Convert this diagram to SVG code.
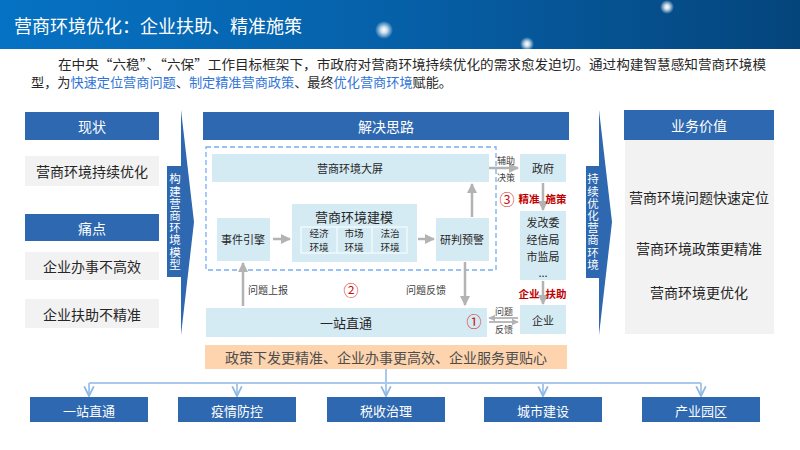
<svg xmlns="http://www.w3.org/2000/svg" width="800" height="450" viewBox="0 0 800 450">
<defs>
<linearGradient id="hdr" x1="0" y1="0" x2="1" y2="0">
<stop offset="0" stop-color="#0672c3"/>
<stop offset="0.5" stop-color="#0660a8"/>
<stop offset="1" stop-color="#05457c"/>
</linearGradient>
<radialGradient id="glow">
<stop offset="0" stop-color="#ffffff" stop-opacity="1"/>
<stop offset="0.35" stop-color="#ffffff" stop-opacity="0.8"/>
<stop offset="1" stop-color="#ffffff" stop-opacity="0"/>
</radialGradient>
<marker id="ag" viewBox="0 0 10 10" refX="9" refY="5" markerWidth="4" markerHeight="4" orient="auto">
<path d="M0,0 L10,5 L0,10 z" fill="#b3b3b3"/>
</marker>
<marker id="ab" viewBox="0 0 10 10" refX="9" refY="5" markerWidth="6" markerHeight="6" orient="auto">
<path d="M1,1 L9,5 L1,9" fill="none" stroke="#8db8e6" stroke-width="1.5"/>
</marker>
<style>
text{font-family:"Noto Sans CJK SC","Microsoft YaHei",sans-serif;}
.hb{fill:#2d68b0;}
.hbt{fill:#fff;font-size:14px;text-anchor:middle;dominant-baseline:central;}
.gb{fill:#f2f2f2;}
.gt{fill:#262626;font-size:14px;text-anchor:middle;dominant-baseline:central;}
.lb{fill:#d5ebf4;}
.lt{fill:#262626;font-size:11px;text-anchor:middle;dominant-baseline:central;}
.st{fill:#262626;font-size:9.6px;text-anchor:middle;dominant-baseline:central;}
.sm{fill:#404040;font-size:10px;text-anchor:middle;dominant-baseline:central;}
.tiny{fill:#404040;font-size:9px;text-anchor:middle;dominant-baseline:central;}
.red{fill:#c00000;font-size:10.5px;font-weight:bold;text-anchor:middle;dominant-baseline:central;}
.num{fill:#d01010;font-size:15px;text-anchor:middle;dominant-baseline:central;}
.vt{fill:#fff;font-size:11.5px;text-anchor:middle;writing-mode:vertical-rl;letter-spacing:0.7px;}
.gl{stroke:#b3b3b3;stroke-width:2.5;fill:none;marker-end:url(#ag);}
.bl{stroke:#a9c9ec;stroke-width:2;fill:none;}
.bt{fill:#fff;font-size:13px;text-anchor:middle;dominant-baseline:central;}
</style>
</defs>
<rect width="800" height="450" fill="#fff"/>
<g id="header">
<rect x="0" y="0" width="800" height="49" fill="url(#hdr)"/>
<circle cx="384" cy="30" r="9" fill="url(#glow)"/>
<circle cx="667" cy="7" r="7" fill="url(#glow)"/>
<circle cx="527" cy="44" r="7" fill="url(#glow)"/>
<text x="14" y="25" fill="#fff" font-size="18" dominant-baseline="central">营商环境优化：企业扶助、精准施策</text>
</g>
<g id="intro" font-size="12.8" fill="#262626">
<text x="58" y="63" dominant-baseline="central" textLength="708" lengthAdjust="spacingAndGlyphs">在中央“六稳”、“六保”工作目标框架下，市政府对营商环境持续优化的需求愈发迫切。通过构建智慧感知营商环境模</text>
<text x="31" y="81" dominant-baseline="central" textLength="421" lengthAdjust="spacingAndGlyphs">型，为<tspan fill="#2f74d8">快速定位营商问题</tspan>、<tspan fill="#2f74d8">制定精准营商政策</tspan>、最终<tspan fill="#2f74d8">优化营商环境</tspan>赋能。</text>
</g>
<g id="status-header"><rect class="hb" x="25" y="112" width="134" height="28"/><text class="hbt" x="92" y="126">现状</text></g>
<g id="status-1"><rect class="gb" x="25" y="156" width="134" height="30"/><text class="gt" x="92" y="171">营商环境持续优化</text></g>
<g id="pain-header"><rect class="hb" x="25" y="214" width="134" height="27"/><text class="hbt" x="92" y="228">痛点</text></g>
<g id="pain-1"><rect class="gb" x="25" y="252" width="134" height="28"/><text class="gt" x="92" y="266">企业办事不高效</text></g>
<g id="pain-2"><rect class="gb" x="25" y="299" width="134" height="29"/><text class="gt" x="92" y="314">企业扶助不精准</text></g>
<g id="arrow-left">
<path d="M181,110 L194,222 L181,335 Z" fill="#2d68b0"/>
<rect x="167" y="166" width="16" height="111" fill="#2d68b0"/>
<text class="vt" x="175" y="222">构建营商环境模型</text>
</g>
<g id="solution-header"><rect class="hb" x="203" y="112" width="366" height="28"/><text class="hbt" x="386" y="126">解决思路</text></g>
<rect id="dashed-frame" x="206" y="147" width="290" height="123" fill="none" stroke="#76aef0" stroke-width="1.3" stroke-dasharray="5,3"/>
<g id="screen"><rect class="lb" x="212" y="154" width="277" height="28"/><text class="lt" x="350" y="168">营商环境大屏</text></g>
<g id="event-engine"><rect class="lb" x="217" y="218" width="53" height="43"/><text class="lt" x="243" y="239">事件引擎</text></g>
<g id="modeling">
<rect class="lb" x="292" y="204" width="125" height="58"/>
<text x="354" y="216" fill="#262626" font-size="13" text-anchor="middle" dominant-baseline="central">营商环境建模</text>
<rect x="301" y="227" width="106" height="26" fill="none" stroke="#fff" stroke-width="1"/>
<line x1="337" y1="227" x2="337" y2="253" stroke="#fff"/>
<line x1="372" y1="227" x2="372" y2="253" stroke="#fff"/>
<text class="st"><tspan x="319" y="233">经济</tspan><tspan x="319" y="247">环境</tspan></text>
<text class="st"><tspan x="354" y="233">市场</tspan><tspan x="354" y="247">环境</tspan></text>
<text class="st"><tspan x="390" y="233">法治</tspan><tspan x="390" y="247">环境</tspan></text>
</g>
<g id="judge"><rect class="lb" x="436" y="218" width="53" height="43"/><text class="lt" x="462" y="239">研判预警</text></g>
<g id="one-stop"><rect class="lb" x="206" y="308" width="281" height="29"/><text x="346" y="322" fill="#262626" font-size="13" text-anchor="middle" dominant-baseline="central">一站直通</text></g>
<g id="gov"><rect class="lb" x="520" y="154" width="46" height="28"/><text class="lt" x="543" y="168">政府</text></g>
<g id="depts"><rect class="lb" x="520" y="211" width="46" height="69"/>
<text class="lt" x="543" y="222">发改委</text>
<text class="lt" x="543" y="239">经信局</text>
<text class="lt" x="543" y="256">市监局</text>
<text class="lt" x="543" y="272">...</text></g>
<g id="enterprise"><rect class="lb" x="520" y="305" width="46" height="29"/><text class="lt" x="543" y="320">企业</text></g>
<g id="connectors">
<line class="gl" x1="273" y1="239" x2="290" y2="239"/>
<line class="gl" x1="418" y1="239" x2="434" y2="239"/>
<line class="gl" x1="472" y1="217" x2="472" y2="184"/>
<line class="gl" x1="243" y1="306" x2="243" y2="263"/>
<line class="gl" x1="465" y1="262" x2="465" y2="305"/>
<line class="gl" x1="489" y1="168" x2="518" y2="168"/>
<line class="gl" x1="543" y1="183" x2="543" y2="210"/>
<line class="gl" x1="543" y1="281" x2="543" y2="304"/>
<line stroke="#b3b3b3" stroke-width="1.8" fill="none" marker-end="url(#ag)" x1="518" y1="318" x2="489" y2="318"/>
<line stroke="#b3b3b3" stroke-width="1.8" fill="none" marker-end="url(#ag)" x1="489" y1="322" x2="518" y2="322"/>
<text class="tiny" x="506" y="160">辅助</text>
<text class="tiny" x="506" y="177">决策</text>
<text class="sm" x="268" y="289">问题上报</text>
<text class="sm" x="426" y="289">问题反馈</text>
<text class="tiny" x="504" y="311">问题</text>
<text class="tiny" x="504" y="329">反馈</text>
<text class="red" x="529" y="198">精准</text>
<text class="red" x="556" y="198">施策</text>
<text class="red" x="529" y="293">企业</text>
<text class="red" x="556" y="293">扶助</text>
<text class="num" x="507" y="198">③</text>
<text class="num" x="351" y="289">②</text>
<text class="num" x="474" y="320">①</text>
</g>
<g id="arrow-right">
<path d="M599,110 L612,222 L599,335 Z" fill="#2d68b0"/>
<rect x="586" y="166" width="14" height="112" fill="#2d68b0"/>
<text class="vt" x="593" y="222">持续优化营商环境</text>
</g>
<g id="value-header"><rect class="hb" x="624" y="110" width="150" height="30"/><text class="hbt" x="699" y="125">业务价值</text></g>
<g id="value-body"><rect class="gb" x="625" y="140" width="149" height="194"/>
<text class="gt" x="699" y="197">营商环境问题快速定位</text>
<text class="gt" x="699" y="248">营商环境政策更精准</text>
<text class="gt" x="699" y="292">营商环境更优化</text></g>
<g id="outcome"><rect x="205" y="345" width="362" height="24" fill="#fdd4ae"/><text x="386" y="357" fill="#4d4d4d" font-size="14" text-anchor="middle" dominant-baseline="central">政策下发更精准、企业办事更高效、企业服务更贴心</text></g>
<g id="bottom-connectors">
<line class="bl" x1="386" y1="369" x2="386" y2="383"/>
<line class="bl" x1="89" y1="383" x2="701" y2="383"/>
<line class="bl" marker-end="url(#ab)" x1="89" y1="383" x2="89" y2="396"/>
<line class="bl" marker-end="url(#ab)" x1="237" y1="383" x2="237" y2="396"/>
<line class="bl" marker-end="url(#ab)" x1="386" y1="383" x2="386" y2="396"/>
<line class="bl" marker-end="url(#ab)" x1="543" y1="383" x2="543" y2="396"/>
<line class="bl" marker-end="url(#ab)" x1="701" y1="383" x2="701" y2="396"/>
</g>
<g id="b1"><rect class="hb" x="30" y="397" width="118" height="25"/><text class="bt" x="89" y="410">一站直通</text></g>
<g id="b2"><rect class="hb" x="178" y="397" width="118" height="25"/><text class="bt" x="237" y="410">疫情防控</text></g>
<g id="b3"><rect class="hb" x="327" y="397" width="118" height="25"/><text class="bt" x="386" y="410">税收治理</text></g>
<g id="b4"><rect class="hb" x="484" y="397" width="118" height="25"/><text class="bt" x="543" y="410">城市建设</text></g>
<g id="b5"><rect class="hb" x="642" y="397" width="118" height="25"/><text class="bt" x="701" y="410">产业园区</text></g>
</svg>
